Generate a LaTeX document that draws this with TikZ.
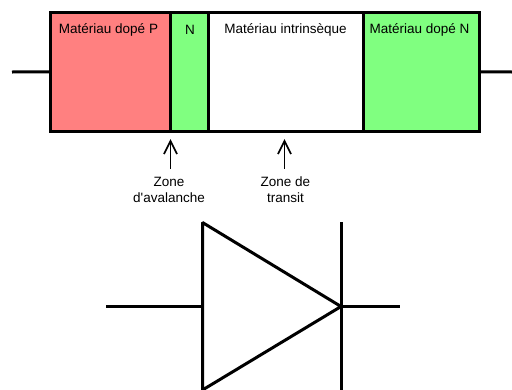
\documentclass[tikz,border=0pt]{standalone}
\usepackage{fontspec}
\setmainfont{Liberation Sans}
\newfontfamily\plainf{Liberation Sans}
\definecolor{pred}{HTML}{FF8080}
\definecolor{ngreen}{HTML}{80FF80}
\tikzset{
  zone/.style={draw=black,line width=3pt,minimum height=119.5pt,inner sep=0pt,outer sep=0pt,anchor=north west},
  lbl/.style={font=\fontsize{13.5}{16}\selectfont,inner sep=0pt,text=black},
  lead/.style={line width=3pt,black},
  pointer/.style={line width=1.7pt,black,line join=miter},
  sym/.style={line width=3pt,black}
}
\begin{document}
\begin{tikzpicture}[x=1pt,y=-1pt]
\useasboundingbox (0,0) rectangle (512,389);
\clip (0,0) rectangle (512,389);
\node[zone,fill=pred,minimum width=120pt] (p) at (50.5,12) {};
\node[zone,fill=ngreen,minimum width=38pt] (n) at (170.5,12) {};
\node[zone,fill=white,minimum width=154.5pt] (i) at (208.5,12) {};
\node[zone,fill=ngreen,minimum width=116.5pt] (nn) at (363,12) {};
\coordinate (la) at (12,72);
\coordinate (rb) at (512,72);
\draw[lead] (la) -- (p.west);
\draw[lead] (nn.east) -- (rb);
\node[lbl] at (108.5,30) {Matériau dopé P};
\node[lbl] at (190,30) {N};
\node[lbl] at (285.5,30) {Matériau intrinsèque};
\node[lbl] at (419.5,30) {Matériau dopé N};
\coordinate (t1) at (170.5,141);
\coordinate (t2) at (284.5,141);
\node[lbl,align=center] (z1) at (169,189.5) {Zone\\{\plainf d'avalanche}};
\node[lbl,align=center] (z2) at (285.5,189.5) {Zone de\\transit};
\draw[pointer] (t1) -- (170.5,169);
\draw[pointer] (164,154) -- (t1) -- (177,154);
\draw[pointer] (t2) -- (284.5,169);
\draw[pointer] (278,154) -- (t2) -- (291,154);
\coordinate (a) at (202.5,222.5);
\coordinate (b) at (202.5,390);
\coordinate (c) at (341,306.5);
\draw[sym,line join=bevel] (a) -- (c) -- (b) -- cycle;
\draw[sym] (341,222) -- (341,390);
\coordinate (l) at (106,306.5);
\coordinate (r) at (400,306.5);
\draw[sym] (l) -- (202.5,306.5);
\draw[sym] (c) -- (r);
\end{tikzpicture}
\end{document}
